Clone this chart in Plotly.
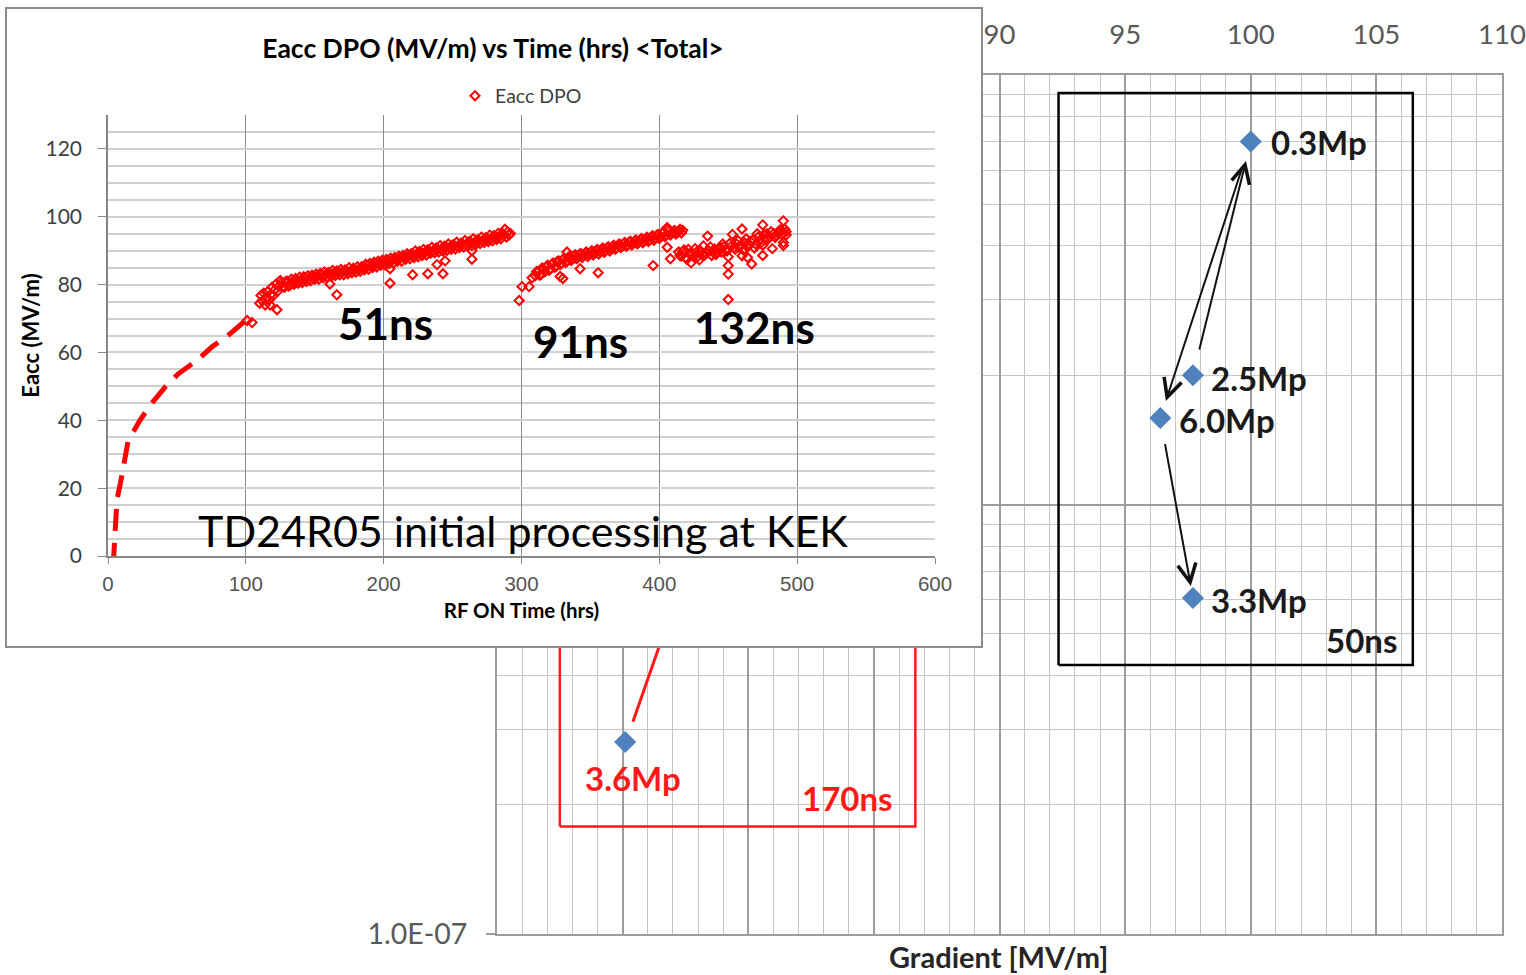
import math
import plotly.graph_objects as go

W, H = 1526, 975

# ---------------- breakdown rate vs gradient ----------------
gradient = [100.0, 97.7, 96.4, 97.7, 75.1]
bdr = [7.0e-6, 2.0e-6, 1.59e-6, 6.06e-7, 2.8e-7]
pulse_labels = ["0.3Mp", "2.5Mp", "6.0Mp", "3.3Mp", "3.6Mp"]

# gradient tick labels (those under the inset panel are left blank)
grad_ticks = [70, 75, 80, 85, 90, 95, 100, 105, 110]
grad_ticktext = ["", "", "", "", "90", "95", "100", "105", "110"]
bdr_ticks = [1e-7, 1e-6, 1e-5]
bdr_ticktext = ["1.0E-07", "", ""]

# pulse-length groups (extent of each outline)
box50_x = [92.35, 106.45]
box50_y = [4.23e-7, 9.08e-6]
box170_x = [72.5, 86.65]
box170_y = [1.78e-7, 1.5e-6]
link170_x = [75.41, 78.07]
link170_y = [3.12e-7, 8.72e-7]

group_text = ["50ns", "170ns"]
group_x = [104.4, 83.96]
group_y = [4.84e-7, 2.07e-7]

# ---------------- Eacc DPO vs RF on time ----------------
band1_t = [110, 111, 112, 113, 114, 115, 116, 117, 118, 119, 120, 121, 122, 123, 124,
           126, 128, 130, 132, 134, 136, 138, 140, 142, 144, 146, 148, 150, 152, 154,
           156, 158, 160, 162, 164, 166, 168, 170, 172, 174, 176, 178, 180, 182, 184,
           186, 188, 190, 192, 194, 196, 198, 200, 202, 204, 206, 208, 210, 212, 214,
           216, 218, 220, 222, 224, 226, 228, 230, 232, 234, 236, 238, 240, 242, 244,
           246, 248, 250, 252, 254, 256, 258, 260, 262, 264, 266, 268, 270, 272, 274,
           276, 278, 280, 282, 284, 286, 288, 289, 290, 291, 292]
band1_e = [74.5, 76.8, 75.2, 77.5, 74.0, 76.2, 78.0, 75.5, 77.0, 79.2, 76.8, 78.5, 80.2, 78.0, 79.5,
           80.6, 79.2, 81.0, 79.8, 80.5, 81.8, 80.4, 81.2, 82.3, 80.9, 81.7, 82.8, 81.6, 82.5, 83.3,
           82.0, 83.0, 83.6, 82.4, 83.4, 84.0, 82.9, 83.8, 84.3, 83.2, 84.1, 84.8, 83.7, 84.6, 85.3,
           84.4, 85.5, 86.2, 85.0, 86.0, 86.9, 85.7, 86.6, 87.4, 86.2, 87.2, 88.0, 86.9, 87.8, 88.6,
           87.5, 88.5, 89.1, 88.0, 89.0, 89.8, 88.6, 89.5, 90.3, 89.2, 90.0, 90.8, 89.6, 90.5, 91.3,
           90.1, 91.0, 91.7, 90.5, 91.4, 92.2, 91.1, 91.9, 92.7, 91.5, 92.4, 93.2, 92.1, 93.0, 93.8,
           92.7, 93.6, 94.4, 93.3, 94.3, 95.1, 96.3, 94.0, 95.6, 94.6, 95.1]
band1b_t = [125, 127, 129, 131, 133, 135, 137, 139, 141, 143, 145, 147, 149, 151, 153,
            155, 157, 159, 161, 163, 165, 167, 169, 171, 173, 175, 177, 179, 181, 183,
            185, 187, 189, 191, 193, 195, 197, 199, 201, 203, 205, 207, 209, 211, 213,
            215, 217, 219, 221, 223, 225, 227, 229, 231, 233, 235, 237, 239, 241, 243,
            245, 247, 249, 251, 253, 255, 257, 259, 261, 263, 265, 267, 269, 271, 273,
            275, 277, 279, 281, 283, 285, 287]
band1b_e = [81.2, 79.4, 80.9, 79.6, 81.6, 80.1, 81.0, 82.2, 80.6, 81.9, 82.6, 81.1, 82.4, 83.1, 81.6,
            82.9, 83.7, 82.1, 83.3, 84.2, 82.7, 83.6, 84.5, 82.9, 83.9, 85.0, 83.5, 84.4, 85.3, 83.9,
            85.0, 86.0, 84.5, 85.6, 86.6, 85.2, 86.2, 87.2, 85.8, 86.9, 87.8, 86.3, 87.5, 88.4, 86.9,
            88.1, 89.1, 87.6, 88.8, 89.9, 88.2, 89.4, 90.4, 88.7, 90.0, 91.0, 89.4, 90.6, 91.5, 89.9,
            91.2, 92.0, 90.4, 91.6, 92.5, 90.9, 92.1, 93.0, 91.4, 92.6, 93.5, 91.9, 93.1, 94.0, 92.4,
            93.7, 94.6, 92.9, 94.2, 95.1, 93.5, 94.8]
scatter1_t = [101, 104.5, 117.6, 122.6, 161, 166, 204.6, 204.6, 221, 232, 243, 238.7, 244.6, 264, 264]
scatter1_e = [69.4, 68.8, 74.0, 72.6, 80.2, 77.0, 80.4, 84.7, 82.9, 83.2, 83.2, 85.9, 87.0, 87.5, 90.0]

band2_t = [298.3, 300.4, 305.5, 307.7, 310, 312, 314, 316, 318, 320, 322, 324, 326, 328, 330,
           332, 334, 336, 338, 340, 342, 344, 346, 348, 350, 352, 354, 356, 358, 360,
           362, 364, 366, 368, 370, 372, 374, 376, 378, 380, 382, 384, 386, 388, 390,
           392, 394, 396, 398, 400, 402, 404, 406, 408, 410, 412, 414, 416, 417]
band2_e = [75.3, 79.4, 79.4, 82.0, 82.6, 83.8, 82.9, 84.5, 85.3, 84.2, 86.0, 85.1, 86.8, 85.9, 87.4,
           86.5, 88.0, 87.1, 88.4, 87.6, 88.9, 88.0, 89.2, 88.3, 89.5, 88.7, 89.9, 89.0, 90.3, 89.5,
           90.8, 89.9, 91.2, 90.4, 91.6, 90.9, 92.1, 91.3, 92.5, 91.7, 92.8, 92.0, 93.1, 92.3, 93.5,
           92.7, 94.0, 93.1, 94.5, 93.6, 95.2, 94.1, 96.4, 94.6, 95.5, 94.9, 95.8, 95.2, 96.0]
band2b_t = [311, 313, 315, 317, 319, 321, 323, 325, 327, 329, 331, 333, 335, 337, 339,
            341, 343, 345, 347, 349, 351, 353, 355, 357, 359, 361, 363, 365, 367, 369,
            371, 373, 375, 377, 379, 381, 383, 385, 387, 389, 391, 393, 395, 397, 399,
            401, 403, 405, 407, 409, 411, 413, 415]
band2b_e = [83.9, 82.8, 84.9, 83.8, 85.7, 84.6, 86.4, 85.3, 87.0, 86.2, 87.8, 86.9, 88.3, 87.5, 88.8,
            88.1, 89.2, 88.5, 89.6, 88.9, 90.0, 89.2, 90.4, 89.7, 90.8, 90.0, 91.2, 90.5, 91.6, 90.8,
            92.0, 91.2, 92.4, 91.6, 92.8, 92.1, 93.2, 92.4, 93.6, 92.8, 94.0, 93.2, 94.4, 93.6, 94.8,
            94.2, 95.4, 94.6, 95.8, 95.1, 96.0, 95.3, 96.3]
scatter2_t = [328, 330, 342.5, 355.6, 395.5, 408, 405.7, 333, 405.7]
scatter2_e = [82.4, 81.8, 84.7, 83.5, 85.6, 87.6, 91.0, 89.6, 96.8]

band3_t = [414, 416, 418, 420, 422, 423, 425, 427, 429, 431, 432, 434, 435, 436, 438,
           440, 442, 444, 446, 448, 450, 450, 450, 450, 452, 453, 455, 456, 458, 460,
           460, 462, 464, 464, 466, 467, 468, 470, 471, 473, 475, 475, 475, 477, 478,
           480, 482, 483, 485, 487, 489, 490, 490, 490, 491, 492]
band3_e = [89.6, 88.4, 90.2, 87.5, 89.0, 86.4, 88.2, 89.6, 87.3, 88.8, 91.4, 89.2, 94.3, 90.0, 88.6,
           90.5, 89.4, 91.0, 92.0, 90.2, 88.2, 85.6, 83.1, 75.6, 91.2, 94.8, 90.4, 92.0, 91.0, 96.4,
           88.5, 92.3, 88.0, 91.1, 92.8, 86.1, 93.2, 91.9, 95.0, 93.0, 97.6, 88.6, 91.6, 93.6, 95.0,
           94.0, 90.6, 95.1, 94.5, 95.9, 94.8, 91.5, 92.4, 98.8, 96.4, 95.6]
band3b_t = [415, 417, 419, 421, 424, 426, 428, 430, 433, 437, 439, 441, 443, 445, 447,
            449, 451, 454, 457, 459, 461, 463, 465, 469, 472, 474, 476, 479, 481, 484,
            486, 488, 492]
band3b_e = [88.6, 89.8, 88.0, 90.4, 88.9, 90.6, 88.3, 89.9, 88.7, 91.1, 89.5, 88.9, 90.3, 89.6, 91.3,
            89.9, 92.1, 90.9, 93.0, 91.6, 90.2, 93.5, 92.0, 90.8, 94.1, 92.4, 94.8, 93.4, 95.6, 93.9,
            95.2, 96.2, 94.6]

# hand-drawn extrapolation of the early conditioning
ramp_t = [3.8, 5.1, 6.5, 9.2, 12.3, 14.7, 23.2, 30.5, 41.4, 51, 64.4, 75.3, 88.5, 100]
ramp_e = [-2.6, 10, 16.5, 21.9, 28.7, 34.1, 40, 44.4, 49.8, 53.7, 57.6, 61.6, 65.5, 69.5]

pulse_notes = ["51ns", "91ns", "132ns"]
note_t = [201, 342.5, 469]
note_e = [68.8, 63.5, 67.6]

FONT = "Lato"


def fx(p):
    return p / W


def fy(p):
    return 1 - p / H


def outline(xr, yr):
    return [xr[0], xr[0], xr[1], xr[1], xr[0]], [yr[0], yr[1], yr[1], yr[0], yr[0]]


fig = go.Figure()

# --- background chart ---
bx, by = outline(box170_x, box170_y)
fig.add_trace(go.Scatter(x=bx, y=by, mode="lines", line=dict(color="#ff1a1a", width=2.5),
                         showlegend=False, hoverinfo="skip", xaxis="x", yaxis="y"))
fig.add_trace(go.Scatter(x=link170_x, y=link170_y, mode="lines", line=dict(color="#ff1a1a", width=3),
                         showlegend=False, hoverinfo="skip", xaxis="x", yaxis="y"))
bx, by = outline(box50_x, box50_y)
fig.add_trace(go.Scatter(x=bx, y=by, mode="lines", line=dict(color="#000000", width=2.5),
                         showlegend=False, hoverinfo="skip", xaxis="x", yaxis="y"))
fig.add_trace(go.Scatter(x=gradient, y=bdr, mode="markers",
                         marker=dict(symbol="diamond", size=17, color="#4f81bd"),
                         showlegend=False, xaxis="x", yaxis="y"))

# --- panel that holds the conditioning history ---
fig.add_trace(go.Scatter(x=[], y=[], xaxis="x2", yaxis="y2", showlegend=False, hoverinfo="skip"))

# --- conditioning history ---
fig.add_trace(go.Scatter(x=ramp_t, y=ramp_e, mode="lines",
                         line=dict(color="#ff0000", width=5, dash="22px,12px"),
                         showlegend=False, hoverinfo="skip", xaxis="x3", yaxis="y3"))
all_t = band1_t + band1b_t + scatter1_t + band2_t + band2b_t + scatter2_t + band3_t + band3b_t
all_e = band1_e + band1b_e + scatter1_e + band2_e + band2b_e + scatter2_e + band3_e + band3b_e
fig.add_trace(go.Scatter(x=all_t, y=all_e, mode="markers", name="Eacc DPO",
                         marker=dict(symbol="diamond-open", size=7, color="#ff0000",
                                     line=dict(width=2, color="#ff0000")),
                         xaxis="x3", yaxis="y3"))

annotations = []
label_shift = [(18, 0), (16, -3), (17, -2), (16, -2)]
for i, (dx, dy) in enumerate(label_shift):
    annotations.append(dict(x=gradient[i], y=math.log10(bdr[i]), xref="x", yref="y",
                            text="<b>" + pulse_labels[i] + "</b>", showarrow=False,
                            xanchor="left", yanchor="middle", xshift=dx, yshift=dy,
                            font=dict(family=FONT, size=33, color="#1a1a1a")))
annotations.append(dict(x=gradient[4], y=math.log10(bdr[4]), xref="x", yref="y",
                        text="<b>" + pulse_labels[4] + "</b>", showarrow=False,
                        xanchor="center", yanchor="middle", xshift=8, yshift=-36,
                        font=dict(family=FONT, size=33, color="#ff1a1a")))
for i, col in enumerate(["#1a1a1a", "#ff1a1a"]):
    annotations.append(dict(x=group_x[i], y=math.log10(group_y[i]), xref="x", yref="y",
                            text="<b>" + group_text[i] + "</b>", showarrow=False,
                            xanchor="center", yanchor="middle",
                            font=dict(family=FONT, size=33, color=col)))

# conditioning sequence arrows: 2.5Mp -> 0.3Mp -> 6.0Mp -> 3.3Mp
for a, b, s0, s1 in [(1, 0, 25, 20), (0, 2, 27, 18), (2, 3, 25, 12)]:
    annotations.append(dict(x=gradient[b], y=math.log10(bdr[b]), ax=gradient[a], ay=math.log10(bdr[a]),
                            xref="x", yref="y", axref="x", ayref="y", text="",
                            showarrow=True, arrowhead=5, arrowsize=1.8, arrowwidth=2,
                            arrowcolor="#111111", standoff=s1, startstandoff=s0))

annotations.append(dict(x=fx(998), y=0, xref="paper", yref="paper",
                        text="<b>Gradient [MV/m]</b>", showarrow=False,
                        xanchor="center", yanchor="bottom", borderpad=0,
                        font=dict(family=FONT, size=29, color="#262626")))

for i, txt in enumerate(pulse_notes):
    annotations.append(dict(x=note_t[i], y=note_e[i], xref="x3", yref="y3",
                            text="<b>" + txt + "</b>", showarrow=False,
                            xanchor="center", yanchor="middle",
                            font=dict(family=FONT, size=44, color="#000000")))
annotations.append(dict(x=301, y=7.6, xref="x3", yref="y3",
                        text="TD24R05 initial processing at KEK", showarrow=False,
                        xanchor="center", yanchor="middle",
                        font=dict(family=FONT, size=43, color="#000000")))

minor_log = [k * 10.0 ** e for e in (-7, -6) for k in range(2, 10)]

fig.update_layout(
    width=W, height=H, autosize=False,
    margin=dict(l=0, r=0, t=0, b=0, autoexpand=False),
    paper_bgcolor="white", plot_bgcolor="white",
    font=dict(family=FONT),
    title=dict(text="<b>Eacc DPO (MV/m) vs Time (hrs) &lt;Total&gt;</b>",
               x=fx(493), y=fy(49), xanchor="center", yanchor="middle",
               xref="container", yref="container", automargin=False,
               font=dict(family=FONT, size=26.5, color="#000000")),
    legend=dict(x=fx(455), y=fy(96), xanchor="left", yanchor="middle",
                bgcolor="rgba(0,0,0,0)", itemwidth=30,
                font=dict(family=FONT, size=19.5, color="#404040")),
    annotations=annotations,
    xaxis=dict(domain=[fx(497), fx(1502)], range=[70, 110], anchor="y", side="top",
               automargin=False, ticklabeloverflow="allow",
               tickmode="array", tickvals=grad_ticks, ticktext=grad_ticktext,
               ticks="", showgrid=True, gridcolor="#9c9c9c", gridwidth=1.5,
               minor=dict(dtick=1, showgrid=True, gridcolor="#c6c6c6", gridwidth=1.3, ticks=""),
               showline=True, mirror=True, linecolor="#9c9c9c", linewidth=2, zeroline=False,
               tickfont=dict(family=FONT, size=27.5, color="#595959"), ticklabelstandoff=18,
               fixedrange=True),
    yaxis=dict(domain=[fy(934), fy(75)], type="log", range=[-7, -5], anchor="x",
               automargin=False,
               tickmode="array", tickvals=bdr_ticks, ticktext=bdr_ticktext,
               ticks="outside", ticklen=9, tickwidth=1.5, tickcolor="#9c9c9c",
               showgrid=True, gridcolor="#9c9c9c", gridwidth=1.5,
               minor=dict(tickvals=minor_log, showgrid=True, gridcolor="#c6c6c6", gridwidth=1.3, ticks=""),
               showline=True, mirror=True, linecolor="#9c9c9c", linewidth=2, zeroline=False,
               tickfont=dict(family=FONT, size=28.5, color="#595959"), ticklabelstandoff=13,
               fixedrange=True),
    xaxis2=dict(domain=[fx(7), fx(981)], range=[0, 1], anchor="y2", automargin=False,
                showgrid=False, zeroline=False,
                showticklabels=False, ticks="", showline=True, mirror=True,
                linecolor="#8c8c8c", linewidth=2, fixedrange=True),
    yaxis2=dict(domain=[fy(646), fy(9)], range=[0, 1], anchor="x2", automargin=False,
                showgrid=False, zeroline=False,
                showticklabels=False, ticks="", showline=True, mirror=True,
                linecolor="#8c8c8c", linewidth=2, fixedrange=True),
    xaxis3=dict(domain=[fx(108), fx(935)], range=[0, 600], anchor="y3", automargin=False,
                tick0=0, dtick=100, showgrid=True, gridcolor="#8c8c8c", gridwidth=1,
                showline=True, linecolor="#868686", linewidth=1.5, zeroline=False,
                ticks="outside", ticklen=6, tickcolor="#868686",
                tickfont=dict(family="Liberation Sans", size=20.5, color="#555555"),
                ticklabelstandoff=3,
                title=dict(text="<b>RF ON Time (hrs)</b>", standoff=9,
                           font=dict(family=FONT, size=20.5, color="#000000")),
                fixedrange=True),
    yaxis3=dict(domain=[fy(556), fy(115)], range=[0, 130], anchor="x3", automargin=False,
                tick0=0, dtick=20, showgrid=True, gridcolor="#d0d0d0", gridwidth=1.5,
                minor=dict(dtick=5, showgrid=True, gridcolor="#d0d0d0", gridwidth=1.5, ticks=""),
                showline=True, linecolor="#868686", linewidth=1.5, zeroline=False,
                ticks="outside", ticklen=8, tickcolor="#868686",
                tickfont=dict(family=FONT, size=21, color="#404040"), ticklabelstandoff=12,
                title=dict(text="<b>Eacc (MV/m)</b>", standoff=0,
                           font=dict(family=FONT, size=22, color="#000000")),
                fixedrange=True),
)

fig.write_html("out.html", config={"displayModeBar": False})
